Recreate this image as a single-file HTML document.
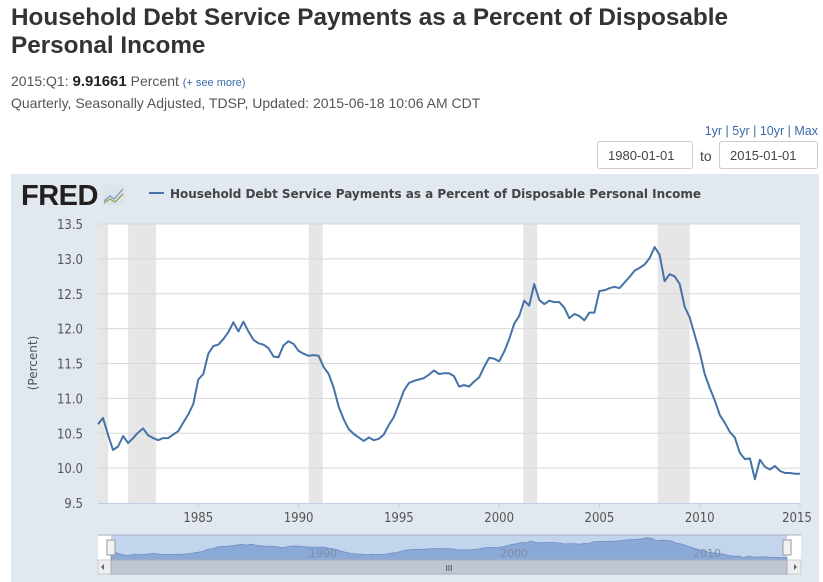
<!DOCTYPE html>
<html><head><meta charset="utf-8">
<style>
body{margin:0;width:823px;height:582px;background:#fff;font-family:"Liberation Sans",sans-serif;position:relative;overflow:hidden}
.abs{position:absolute}
#title{left:11px;top:4px;font-size:24.3px;font-weight:bold;color:#333;line-height:28px;width:790px}
#latest{left:11px;top:73px;font-size:14px;color:#555}
#meta{left:11px;top:95px;font-size:14px;color:#555}
#ranges{right:5px;top:124px;font-size:12.5px;color:#3a6aa8}
.inp{top:141px;height:28px;border:1px solid #ccc;border-radius:3px;font-size:13px;color:#444;line-height:28px;padding-left:10px;box-sizing:border-box}
</style></head><body>
<div id="title" class="abs">Household Debt Service Payments as a Percent of Disposable Personal Income</div>
<div id="latest" class="abs">2015:Q1: <b style="color:#222;font-size:15px">9.91661</b> Percent <span style="color:#3a6aa8;font-size:11px">(+ see more)</span></div>
<div id="meta" class="abs">Quarterly, Seasonally Adjusted, TDSP, Updated: 2015-06-18 10:06 AM CDT</div>
<div id="ranges" class="abs"><span>1yr</span> | <span>5yr</span> | <span>10yr</span> | <span>Max</span></div>
<div class="abs inp" style="left:597px;width:96px">1980-01-01</div>
<div class="abs" style="left:700px;top:148px;font-size:14px;color:#444">to</div>
<div class="abs inp" style="left:719px;width:99px">2015-01-01</div>

<svg class="abs" style="left:0;top:0" width="823" height="582">
<rect x="11" y="174" width="808" height="410" fill="#e1e8f0"/>
<g>
<text x="21" y="205" font-family="'Liberation Sans',sans-serif" font-weight="bold" font-size="29" fill="#231f20" letter-spacing="-0.5">FRED</text>
<rect x="103" y="185" width="22" height="20" fill="#dde3ea"/>
<polyline points="104,201 110,196 114,199 123,189" fill="none" stroke="#7a9ab8" stroke-width="1.3"/>
<polyline points="104,203 110,199 115,202 123,194" fill="none" stroke="#8aa84a" stroke-width="1.3"/>
</g>
<line x1="149" y1="193" x2="164" y2="193" stroke="#4572a7" stroke-width="2"/>
<text x="170" y="198" font-family="'DejaVu Sans',Verdana,sans-serif" font-weight="bold" font-size="12" fill="#444" textLength="531">Household Debt Service Payments as a Percent of Disposable Personal Income</text>
<rect x="98" y="224" width="702" height="279" fill="#fff"/>
<g id="rec"></g><g id="grid"></g><g id="yt"></g><g id="xt"></g>
<text transform="translate(37,363) rotate(-90)" text-anchor="middle" font-family="'DejaVu Sans',Verdana,sans-serif" font-size="12" fill="#555">(Percent)</text>
<path id="line" fill="none" stroke="#4572a7" stroke-width="2" stroke-linejoin="round"/>
<g>
<rect x="98" y="535" width="703" height="25" fill="#fff"/>
<rect x="111" y="535" width="676" height="25" fill="#c3d5ec"/>
<path id="nav" fill="#8ba9d6" stroke="#6f8fc4" stroke-width="0.8"/>
<text x="323" y="557" text-anchor="middle" font-family="'DejaVu Sans',sans-serif" font-size="11" fill="#7f8ea6">1990</text>
<text x="514" y="557" text-anchor="middle" font-family="'DejaVu Sans',sans-serif" font-size="11" fill="#7f8ea6">2000</text>
<text x="707" y="557" text-anchor="middle" font-family="'DejaVu Sans',sans-serif" font-size="11" fill="#7f8ea6">2010</text>
<line x1="98" y1="535" x2="801" y2="535" stroke="#aab" stroke-width="1"/>
<rect x="107" y="540" width="8" height="15" fill="#f2f2f2" stroke="#999"/>
<rect x="783" y="540" width="8" height="15" fill="#f2f2f2" stroke="#999"/>
<rect x="98" y="560" width="703" height="14" fill="#eee" stroke="#ccc"/>
<rect x="111" y="560" width="676" height="14" fill="#bfc7d3" stroke="#aab"/>
<text x="449" y="571" text-anchor="middle" font-size="8" fill="#333">III</text>
<path d="M104,564 l-3,3 3,3z" fill="#666"/>
<path d="M794,564 l3,3 -3,3z" fill="#666"/>
</g>
</svg>
<script>
const values=[10.63,10.72,10.48,10.26, 10.31,10.46,10.36,10.43, 10.51,10.57,10.47,10.43, 10.40,10.43,10.43,10.48,
10.53,10.65,10.77,10.92, 11.27,11.35,11.64,11.75, 11.77,11.85,11.95,12.09, 11.96,12.10,11.96,11.84,
11.79,11.77,11.72,11.60, 11.59,11.76,11.82,11.78, 11.68,11.64,11.61,11.62, 11.61,11.45,11.35,11.15,
10.88,10.70,10.56,10.49, 10.44,10.39,10.44,10.40, 10.42,10.48,10.62,10.73, 10.92,11.11,11.22,11.25,
11.27,11.29,11.34,11.40, 11.35,11.36,11.36,11.32, 11.17,11.19,11.17,11.24, 11.30,11.45,11.58,11.57,
11.53,11.67,11.85,12.07, 12.18,12.40,12.33,12.64, 12.41,12.35,12.40,12.38, 12.38,12.30,12.15,12.21,
12.18,12.12,12.23,12.23, 12.54,12.55,12.58,12.60, 12.58,12.66,12.74,12.83, 12.87,12.92,13.01,13.17,
13.06,12.68,12.78,12.75, 12.64,12.31,12.16,11.91, 11.66,11.35,11.15,10.97, 10.76,10.65,10.52,10.44,
10.22,10.13,10.14,9.84, 10.12,10.02,9.98,10.03, 9.96,9.93,9.93,9.92, 9.92];
const startYear=1980;
const recStarts=[1980.0,1981.5,1990.5,2001.2,2007.9];
const recEnds=[1980.5,1982.9,1991.2,2001.9,2009.5];
const yTicks=[9.5,10.0,10.5,11.0,11.5,12.0,12.5,13.0,13.5];
const xTicks=[1985,1990,1995,2000,2005,2010,2015];
const NS='http://www.w3.org/2000/svg';
const X=t=>98+(t-1980)*702/35, Y=v=>503-(v-9.5)*279/4;
function mk(p,tag,a,txt){const e=document.createElementNS(NS,tag);for(const k in a)e.setAttribute(k,a[k]);if(txt!=null)e.textContent=txt;document.getElementById(p).appendChild(e);return e;}
recStarts.forEach((s,i)=>{const r=mk('rec','rect',{x:X(s),y:224,width:X(recEnds[i])-X(s),height:279,fill:'#e6e6e6'});

});
yTicks.forEach(v=>{if(v>9.5){const l=mk('grid','line',{x1:98,x2:800,y1:Y(v),y2:Y(v),stroke:'#d8d8d8'});

}
const t=mk('yt','text',{x:83,y:Y(v)+5,'text-anchor':'end','font-family':"'DejaVu Sans Condensed','DejaVu Sans',sans-serif",'font-size':13,fill:'#555'},v.toFixed(1));

});
mk('xt','line',{x1:98,x2:800,y1:503.5,y2:503.5,stroke:'#c0d0e0'});
xTicks.forEach(y=>{mk('xt','line',{x1:X(y),x2:X(y),y1:503,y2:508,stroke:'#c0d0e0'});
const t=mk('xt','text',{x:y===2015?X(y)-3:X(y),y:522,'text-anchor':'middle','font-family':"'DejaVu Sans Condensed','DejaVu Sans',sans-serif",'font-size':13,fill:'#555'},y);

});
let d='';values.forEach((v,i)=>{d+=(i?'L':'M')+X(startYear+i/4).toFixed(1)+','+Y(v).toFixed(1);});
document.getElementById('line').setAttribute('d',d);
const NX=t=>111+(t-1980)*676/35, NY=v=>560-(v-9.5)*23/3.8;
let n='M'+NX(1980)+',560';values.forEach((v,i)=>{n+='L'+NX(startYear+i/4).toFixed(1)+','+NY(v).toFixed(1);});
n+='L'+NX(startYear+(values.length-1)/4).toFixed(1)+',560Z';
document.getElementById('nav').setAttribute('d',n);
</script>
</body></html>
